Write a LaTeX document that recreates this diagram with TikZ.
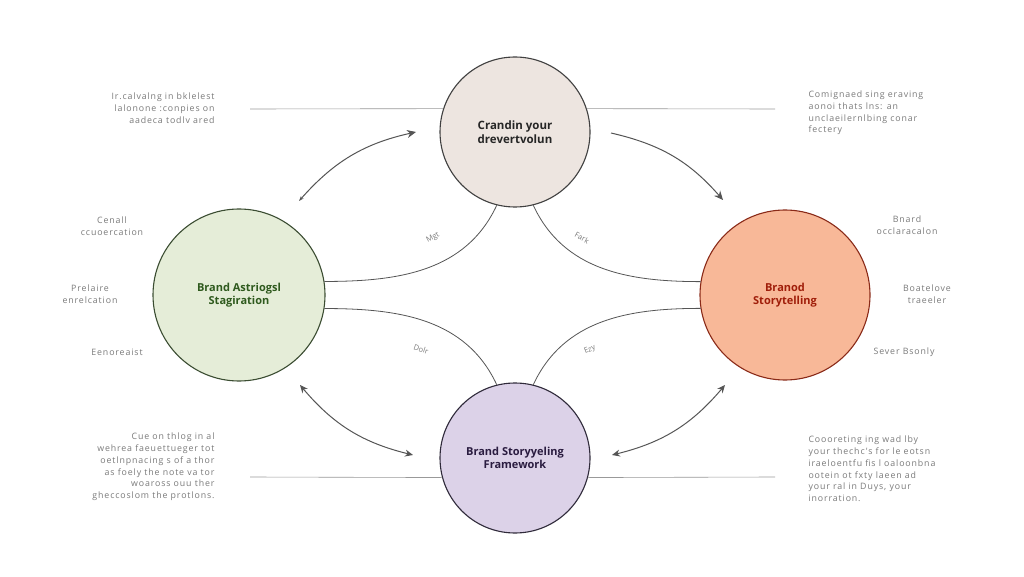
\documentclass[tikz,border=0pt]{standalone}
\usepackage{fontspec}
\setmainfont{Open Sans}
\newfontfamily\sidefont[LetterSpace=10.0]{Open Sans}
\usetikzlibrary{arrows.meta, positioning}

\definecolor{topfill}{HTML}{EDE5E0}
\definecolor{leftfill}{HTML}{E5EDD8}
\definecolor{leftdraw}{HTML}{3B4D32}
\definecolor{lefttext}{HTML}{2F5A1E}
\definecolor{rightfill}{HTML}{F8B898}
\definecolor{rightdraw}{HTML}{8A2A18}
\definecolor{righttext}{HTML}{A01E0A}
\definecolor{botfill}{HTML}{DCD2E8}
\definecolor{botdraw}{HTML}{2F2A3A}
\definecolor{bottext}{HTML}{2A1C40}
\definecolor{sidegray}{HTML}{7A7A7A}
\definecolor{linkgray}{HTML}{555555}

\begin{document}
\begin{tikzpicture}[x=1pt, y=1pt,
    hub/.style={circle, draw, line width=1.1pt, inner sep=0pt, align=center,
        font=\fontsize{11}{13.5}\selectfont\bfseries},
    side/.style={align=center, text=sidegray, font=\sidefont\fontsize{8.8}{11.8}\selectfont},
    tag/.style={text=sidegray, inner sep=1pt, font=\fontsize{7.5}{8}\selectfont},
    link/.style={draw=linkgray, line width=0.8pt},
    rule/.style={draw=gray!80, line width=0.6pt},
    flow/.style={draw=linkgray, line width=1pt}]
    \useasboundingbox (0,0) rectangle (1024,576);
    \fill[white] (0,0) rectangle (1024,576);

    \node[hub, fill=topfill, draw=black!75, text=black!85, minimum size=150pt,
        font=\fontsize{11.5}{14}\selectfont\bfseries] (top) at (515,444)
        {Crandin your\\drevertvolun};
    \node[hub, fill=leftfill, draw=leftdraw, text=lefttext, minimum size=172pt] (left) at (239,281)
        {Brand Astriogsl\\Stagiration};
    \node[hub, fill=rightfill, draw=rightdraw, text=righttext, minimum size=170pt] (right) at (785,281)
        {Branod\\Storytelling};
    \node[hub, fill=botfill, draw=botdraw, text=bottext, minimum size=150pt] (bottom) at (515,118)
        {Brand Storyyeling\\Framework};

    \draw[link] (left.9) to[out=0, in=245] (top.256);
    \draw[link] (top.284) to[out=-65, in=180] (right.171);
    \draw[link] (left.-9) to[out=0, in=115] (bottom.104);
    \draw[link] (bottom.76) to[out=65, in=180] (right.189);

    \node[tag, rotate=28] (tagtl) at (433,338) {Mgt};
    \node[tag, rotate=-28] (tagtr) at (582,338) {Fark};
    \node[tag, rotate=-18] (tagbl) at (421,227) {Dolr};
    \node[tag, rotate=22] (tagbr) at (590,226) {Ezy};

    \coordinate (tlline) at (250,467);
    \coordinate (trline) at (775,467);
    \coordinate (blline) at (250,99);
    \coordinate (brline) at (775,99);
    \draw[rule] (tlline) -- (top.162);
    \draw[rule] (top.18) -- (trline);
    \draw[rule] (blline) -- (bottom.195);
    \draw[rule] (bottom.-15) -- (brline);

    \coordinate (tla) at (299,375);
    \coordinate (tlb) at (416,444);
    \coordinate (tra) at (611,443);
    \coordinate (trb) at (723,376);
    \coordinate (bla) at (300,191);
    \coordinate (blb) at (413,121);
    \coordinate (bra) at (612,121);
    \coordinate (brb) at (725,191);
    \draw[flow, {Stealth[length=5pt, width=3.5pt]}-{Stealth[length=9pt, width=8pt]}]
        (tla) to[bend left=18] (tlb);
    \draw[flow, -{Stealth[length=9pt, width=8pt]}] (tra) to[bend left=18] (trb);
    \draw[flow, {Stealth[length=8pt, width=7pt]}-{Stealth[length=8pt, width=7pt]}]
        (bla) to[bend right=18] (blb);
    \draw[flow, {Stealth[length=8pt, width=7pt]}-{Stealth[length=8pt, width=7pt]}]
        (bra) to[bend right=18] (brb);

    \node[side, align=right, anchor=east] (notetl) at (218,468)
        {Ir.calvalng in bklelest\\lalonone :conpies on\\aadeca todlv ared};
    \node[side, align=left, anchor=west] (notetr) at (805,463)
        {Comignaed sing eraving\\aonoi thats lns: an\\unclaeilernlbing conar\\fectery};
    \node[side, align=right, anchor=east] (notebl) at (218,109)
        {Cue on thlog in al\\wehrea faeuettueger tot\\oetlnpnacing s of a thor\\as foely the note va tor\\woaross ouu ther\\gheccoslom the protlons.};
    \node[side, align=left, anchor=west] (notebr) at (805,107)
        {Coooreting ing wad lby\\your thechc's for le eotsn\\iraeloentfu fis l oaloonbna\\ootein ot fxty laeen ad\\your ral in Duys, your\\inorration.};

    \node[side] (lbla) at (112,350) {Cenall\\ccuoercation};
    \node[side] (lblb) at (90,282) {Prelaire\\enrelcation};
    \node[side] (lblc) at (117,224) {Eenoreaist};
    \node[side] (rbla) at (907,351) {Bnard\\occlaracalon};
    \node[side] (rblb) at (927,282) {Boatelove\\traeeler};
    \node[side] (rblc) at (904,224) {Sever Bsonly};
\end{tikzpicture}
\end{document}
